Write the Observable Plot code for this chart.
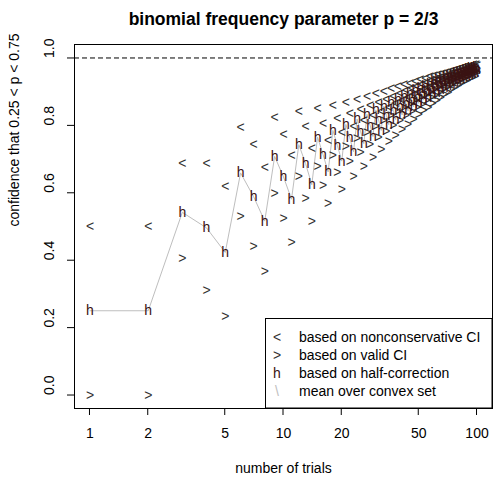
<!DOCTYPE html>
<html><head><meta charset="utf-8">
<script src="https://cdn.jsdelivr.net/npm/d3@7"></script>
<script src="https://cdn.jsdelivr.net/npm/@observablehq/plot@0.6"></script>
<style>body{margin:0;background:#fff;font-family:"Liberation Sans",Arial,sans-serif}</style>
</head><body><div id="chart"></div>
<script>
const trials = [1,2,3,4,5,6,7,8,9,10,11,12,13,14,15,16,17,18,19,20,21,22,23,24,25,26,27,28,29,30,31,32,33,34,35,36,37,38,39,40,41,42,43,44,45,46,47,48,49,50,51,52,53,54,55,56,57,58,59,60,61,62,63,64,65,66,67,68,69,70,71,72,73,74,75,76,77,78,79,80,81,82,83,84,85,86,87,88,89,90,91,92,93,94,95,96,97,98,99,100];
// "<" based on nonconservative CI
const nonconservative = [.500,.500,.687,.687,.619,.793,.743,.674,.823,.773,.711,.840,.798,.732,.851,.805,.756,.860,.820,.778,.869,.834,.797,.878,.847,.814,.886,.858,.828,.894,.868,.841,.901,.878,.853,.908,.887,.864,.914,.895,.874,.920,.902,.883,.925,.909,.892,.930,.915,.899,.935,.921,.906,.940,.927,.913,.944,.932,.919,.948,.937,.925,.952,.941,.930,.955,.946,.935,.958,.949,.940,.961,.953,.944,.964,.956,.948,.967,.960,.952,.969,.963,.955,.971,.966,.959,.974,.968,.962,.976,.971,.964,.978,.973,.967,.980,.975,.970,.982,.977];
// ">" based on valid CI
const valid = [.000,.000,.404,.310,.234,.529,.442,.365,.597,.524,.452,.647,.584,.516,.679,.623,.568,.711,.660,.611,.737,.692,.647,.760,.719,.678,.780,.744,.705,.798,.764,.729,.813,.783,.751,.828,.800,.770,.841,.815,.788,.853,.828,.803,.863,.841,.818,.873,.853,.831,.882,.863,.843,.890,.873,.854,.898,.882,.865,.905,.890,.874,.912,.898,.883,.918,.905,.891,.924,.911,.898,.929,.918,.905,.934,.923,.911,.939,.929,.918,.943,.934,.923,.947,.938,.929,.951,.942,.934,.954,.947,.938,.958,.950,.942,.961,.954,.946,.964,.957];
// "h" based on half-correction
const halfCorrection = [.250,.250,.542,.496,.423,.659,.589,.516,.708,.647,.581,.743,.687,.624,.765,.714,.662,.785,.740,.694,.803,.763,.722,.819,.783,.746,.833,.801,.767,.846,.816,.785,.857,.830,.802,.868,.843,.817,.877,.855,.831,.886,.865,.843,.894,.875,.855,.902,.884,.865,.909,.892,.875,.915,.900,.884,.921,.907,.892,.927,.914,.899,.932,.920,.906,.937,.925,.913,.941,.930,.919,.945,.935,.925,.949,.940,.930,.953,.944,.935,.956,.948,.939,.959,.952,.944,.962,.955,.948,.965,.959,.951,.968,.962,.955,.970,.965,.958,.973,.967];
const xTicks = [1,2,5,10,20,50,100];
const yTicks = [0,0.2,0.4,0.6,0.8,1.0];
const legendSymbols = ["<", ">", "h", "\\"];
const legendLabels = ["based on nonconservative CI","based on valid CI","based on half-correction","mean over convex set"];
const legendColors = ["#333","#333","#3a1212","#bebebe"];

const rows = trials.map((n,i)=>({n, lt: nonconservative[i], gt: valid[i], h: halfCorrection[i]}));
const FS = 14;
const plot = Plot.plot({
  width: 493, height: 487,
  marginLeft: 74, marginRight: 1, marginTop: 44, marginBottom: 79,
  style: {fontFamily: "'Liberation Sans', Arial, sans-serif", background: "white", overflow: "visible"},
  x: {type: "log", domain: [Math.pow(10,-0.08), Math.pow(10,2.08)], axis: null},
  y: {domain: [-0.04, 1.04], axis: null},
  marks: [
    Plot.ruleY([1], {stroke: "black", strokeDasharray: "5,3"}),
    Plot.line(rows, {x: "n", y: "h", stroke: "#bebebe", strokeWidth: 1}),
    Plot.text(rows, {x: "n", y: "lt", text: () => "<", fill: "#333", fontSize: FS}),
    Plot.text(rows, {x: "n", y: "gt", text: () => ">", fill: "#333", fontSize: FS}),
    Plot.text(rows, {x: "n", y: "h", text: () => "h", fill: "#3a1212", fontSize: FS}),
    Plot.frame({stroke: "black"}),
    Plot.text(xTicks, {x: d => d, text: d => String(d), frameAnchor: "bottom", dy: 29, fontSize: FS, fill: "black"}),
    Plot.axisY(yTicks, {tickSize: 7, tickFormat: () => "", label: null, stroke: "black"}),
    Plot.text(yTicks, {y: d => d, text: d => d.toFixed(1), frameAnchor: "left", dx: -25, rotate: -90, fontSize: FS, fill: "black"}),
    Plot.text(["number of trials"], {text: d => d, frameAnchor: "bottom", dy: 64, fontSize: FS, fill: "black"}),
    Plot.text(["confidence that 0.25 < p < 0.75"], {text: d => d, frameAnchor: "left", dx: -60, rotate: -90, fontSize: FS, fill: "black"}),
    Plot.text(["binomial frequency parameter p = 2/3"], {text: d => d, frameAnchor: "top", dy: -32, fontSize: 17.5, fontWeight: "bold", fill: "black"})
  ]
});
document.getElementById("chart").appendChild(plot);

// x tick marks below the frame, placed through the x scale
const xs = plot.scale("x");
const svg = d3.select(plot);
const tg = svg.append("g").attr("stroke", "black");
xTicks.forEach(t => {
  const px = xs.apply(t);
  tg.append("line").attr("x1", px).attr("x2", px).attr("y1", 408).attr("y2", 415);
});

// legend box (inside plot, bottom-right)
const lg = svg.append("g").attr("font-family", "'Liberation Sans', Arial, sans-serif").attr("font-size", FS);
lg.append("rect").attr("x", 265.5).attr("y", 318.5).attr("width", 226.5).attr("height", 89.5)
  .attr("fill", "white").attr("stroke", "black");
legendLabels.forEach((lab, i) => {
  const cy = 337.5 + i * 17.8;
  lg.append("text").attr("x", 277).attr("y", cy).attr("dy", "0.35em").attr("text-anchor", "middle")
    .attr("fill", legendColors[i]).text(legendSymbols[i]);
  lg.append("text").attr("x", 299).attr("y", cy).attr("dy", "0.35em").attr("text-anchor", "start")
    .attr("fill", "black").text(lab);
});
</script>
</body></html>
